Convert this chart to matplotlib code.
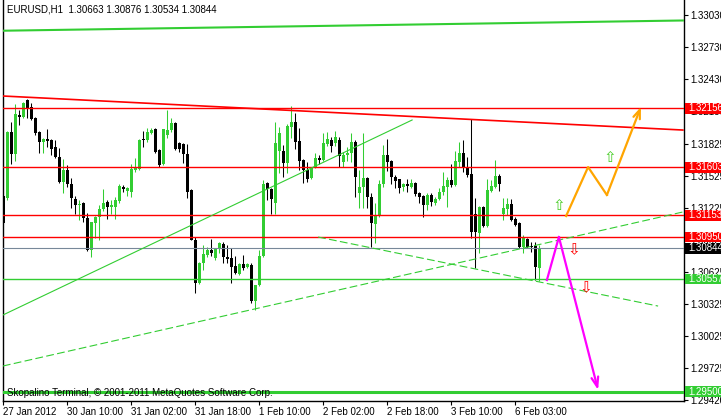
import numpy as np
import matplotlib
matplotlib.use("Agg")
import matplotlib.pyplot as plt
from matplotlib.patches import Rectangle
from matplotlib.transforms import blended_transform_factory

plt.rcParams['font.family'] = ['Liberation Sans', 'DejaVu Sans']
plt.rcParams['font.size'] = 7

# EURUSD H1 bars
opens = [1.31334, 1.31315, 1.31933, 1.31727, 1.32093, 1.32074, 1.32234, 1.32168, 1.32065, 1.31933,
         1.31840, 1.31868, 1.31859, 1.31793, 1.31699, 1.31465, 1.31577, 1.31446, 1.31305, 1.31249,
         1.31268, 1.31127, 1.30827, 1.31080, 1.31137, 1.31212, 1.31277, 1.31230, 1.31230, 1.31287,
         1.31418, 1.31380, 1.31371, 1.31577, 1.31587, 1.31868, 1.31859, 1.31924, 1.31962, 1.31765,
         1.31634, 1.31905, 1.31952, 1.32018, 1.31830, 1.31821, 1.31727, 1.31390, 1.30921, 1.30518,
         1.30705, 1.30780, 1.30827, 1.30752, 1.30837, 1.30884, 1.30762, 1.30752, 1.30677, 1.30602,
         1.30696, 1.30668, 1.30687, 1.30349, 1.30499, 1.30771, 1.31455, 1.31399, 1.31268, 1.31755,
         1.31755, 1.31643, 1.31980, 1.32027, 1.31849, 1.31671, 1.31577, 1.31502, 1.31605, 1.31690,
         1.31671, 1.31821, 1.31859, 1.31830, 1.31859, 1.31652, 1.31718, 1.31737, 1.31840, 1.31362,
         1.31418, 1.31502, 1.31324, 1.31071, 1.31155, 1.31446, 1.31718, 1.31662, 1.31512, 1.31493,
         1.31418, 1.31446, 1.31418, 1.31455, 1.31362, 1.31334, 1.31249, 1.31343, 1.31268, 1.31305,
         1.31371, 1.31418, 1.31484, 1.31437, 1.31652, 1.31737, 1.31605, 1.31540, 1.31165, 1.30987,
         1.31230, 1.31052, 1.31380, 1.31418, 1.31521, 1.31165, 1.31212, 1.31259, 1.31118, 1.31080,
         1.30855, 1.30930, 1.30865, 1.30865, 1.30663]
highs = [1.31343, 1.31943, 1.32027, 1.32196, 1.32140, 1.32215, 1.32243, 1.32205, 1.32074, 1.31943,
         1.31877, 1.31962, 1.31868, 1.31859, 1.31784, 1.31680, 1.31624, 1.31502, 1.31334, 1.31296,
         1.31277, 1.31174, 1.31090, 1.31146, 1.31249, 1.31399, 1.31296, 1.31296, 1.31324, 1.31446,
         1.31437, 1.31418, 1.31634, 1.31690, 1.31868, 1.31943, 1.31971, 1.31971, 1.31971, 1.31774,
         1.31962, 1.32140, 1.32065, 1.32027, 1.31840, 1.31830, 1.31821, 1.31399, 1.30949, 1.30715,
         1.30874, 1.30855, 1.30930, 1.30846, 1.30902, 1.30902, 1.30874, 1.30846, 1.30771, 1.30705,
         1.30780, 1.30705, 1.30705, 1.30499, 1.30827, 1.31484, 1.31465, 1.31409, 1.32027, 1.31980,
         1.31812, 1.32008, 1.32177, 1.32112, 1.31971, 1.31680, 1.31652, 1.31605, 1.31737, 1.31718,
         1.31924, 1.31933, 1.31887, 1.31943, 1.31887, 1.31746, 1.31793, 1.31924, 1.31859, 1.31577,
         1.31924, 1.31512, 1.31362, 1.31268, 1.31484, 1.31812, 1.31868, 1.31671, 1.31530, 1.31493,
         1.31455, 1.31493, 1.31493, 1.31465, 1.31371, 1.31343, 1.31362, 1.31362, 1.31324, 1.31409,
         1.31559, 1.31512, 1.31634, 1.31755, 1.31840, 1.31859, 1.31699, 1.32055, 1.31315, 1.31240,
         1.31240, 1.31493, 1.31484, 1.31671, 1.31540, 1.31315, 1.31315, 1.31305, 1.31137, 1.31090,
         1.30968, 1.30940, 1.30902, 1.30902, 1.30876]
lows = [1.31071, 1.31296, 1.31634, 1.31662, 1.31999, 1.32065, 1.32065, 1.32046, 1.31905, 1.31737,
        1.31737, 1.31793, 1.31718, 1.31690, 1.31455, 1.31362, 1.31418, 1.31221, 1.31165, 1.31109,
        1.31090, 1.30818, 1.30762, 1.30940, 1.30921, 1.31193, 1.31118, 1.31165, 1.31118, 1.31268,
        1.31371, 1.31334, 1.31324, 1.31559, 1.31577, 1.31793, 1.31840, 1.31915, 1.31737, 1.31605,
        1.31624, 1.31877, 1.31933, 1.31765, 1.31746, 1.31643, 1.31315, 1.30921, 1.30424, 1.30509,
        1.30640, 1.30762, 1.30771, 1.30734, 1.30799, 1.30705, 1.30705, 1.30518, 1.30602, 1.30593,
        1.30640, 1.30659, 1.30330, 1.30265, 1.30490, 1.30762, 1.31296, 1.31165, 1.31165, 1.31549,
        1.31512, 1.31549, 1.31877, 1.31774, 1.31577, 1.31455, 1.31465, 1.31493, 1.31596, 1.31634,
        1.31662, 1.31802, 1.31746, 1.31802, 1.31605, 1.31605, 1.31662, 1.31652, 1.31324, 1.31221,
        1.31221, 1.31221, 1.30855, 1.30893, 1.31137, 1.31418, 1.31568, 1.31446, 1.31409, 1.31362,
        1.31380, 1.31371, 1.31409, 1.31334, 1.31268, 1.31137, 1.31202, 1.31240, 1.31249, 1.31296,
        1.31343, 1.31230, 1.31418, 1.31427, 1.31605, 1.31559, 1.31512, 1.30940, 1.30659, 1.30799,
        1.31043, 1.31043, 1.31371, 1.31409, 1.31380, 1.31109, 1.31155, 1.31099, 1.31052, 1.30846,
        1.30799, 1.30846, 1.30809, 1.30546, 1.30534]
closes = [1.31080, 1.31933, 1.31727, 1.32102, 1.32074, 1.32205, 1.32158, 1.32055, 1.31924, 1.31840,
          1.31868, 1.31849, 1.31774, 1.31699, 1.31465, 1.31577, 1.31446, 1.31315, 1.31249, 1.31259,
          1.31127, 1.30827, 1.31090, 1.31137, 1.31212, 1.31268, 1.31230, 1.31249, 1.31296, 1.31427,
          1.31399, 1.31409, 1.31587, 1.31596, 1.31859, 1.31859, 1.31933, 1.31952, 1.31746, 1.31624,
          1.31962, 1.31952, 1.32018, 1.31774, 1.31774, 1.31727, 1.31371, 1.30921, 1.30518, 1.30705,
          1.30790, 1.30827, 1.30799, 1.30846, 1.30893, 1.30762, 1.30743, 1.30668, 1.30612, 1.30696,
          1.30659, 1.30696, 1.30349, 1.30499, 1.30771, 1.31446, 1.31399, 1.31305, 1.31830, 1.31924,
          1.31643, 1.31990, 1.32027, 1.31840, 1.31662, 1.31577, 1.31493, 1.31605, 1.31690, 1.31671,
          1.31830, 1.31868, 1.31802, 1.31887, 1.31709, 1.31718, 1.31737, 1.31840, 1.31512, 1.31418,
          1.31502, 1.31324, 1.31080, 1.31155, 1.31446, 1.31718, 1.31652, 1.31512, 1.31474, 1.31409,
          1.31446, 1.31427, 1.31455, 1.31352, 1.31324, 1.31249, 1.31343, 1.31277, 1.31305, 1.31371,
          1.31427, 1.31484, 1.31437, 1.31662, 1.31737, 1.31605, 1.31530, 1.30996, 1.30996, 1.31230,
          1.31052, 1.31390, 1.31427, 1.31521, 1.31446, 1.31221, 1.31259, 1.31109, 1.31062, 1.30855,
          1.30940, 1.30855, 1.30855, 1.30668, 1.30844]

# time axis labels every 16 bars
xtick_bars = [0, 16, 32, 48, 64, 80, 96, 112, 128]
xtick_labels = ['27 Jan 2012', '30 Jan 10:00', '31 Jan 02:00', '31 Jan 18:00', '1 Feb 10:00',
                '2 Feb 02:00', '2 Feb 18:00', '3 Feb 10:00', '6 Feb 03:00']
ytick_prices = [1.33030, 1.32730, 1.32430, 1.32130, 1.31825, 1.31525, 1.31225,
                1.30925, 1.30625, 1.30325, 1.30025, 1.29725, 1.29420]

# horizontal levels
red_levels = [1.32156, 1.31603, 1.31153, 1.30950]
bid_level = 1.30844
green_level = 1.30557
target_level = 1.29500

# trend lines (bar index, price)
top_line = ([-0.1, 169.9], [1.32883, 1.32979])
red_trend = ([-0.1, 169.9], [1.32271, 1.31952])
green_trend = ([-0.1, 102.2], [1.30218, 1.32046])
dash_up = ([-0.1, 169.9], [1.29740, 1.31184])
dash_down = ([78.7, 163.7], [1.30949, 1.30302])
orange_path = ([140.7, 146.2, 150.9, 159.4], [1.31146, 1.31605, 1.31343, 1.32168])
magenta_path = ([135.9, 138.9, 148.7], [1.30546, 1.30949, 1.29515])
up_arrows = ([138.9, 151.7], [1.31249, 1.31699])
down_arrows = ([142.5, 145.6], [1.30827, 1.30471])

GREEN = '#32CD32'

fig = plt.figure(figsize=(7.21, 4.18), dpi=100)
ax = fig.add_axes([2.5 / 721, 17 / 418, 681 / 721, 401 / 418])
ax.set_xlim(-0.2, 170.05)
ax.set_ylim(1.29412, 1.33171)

# candles
idx = np.arange(len(opens))
o = np.array(opens)
c = np.array(closes)
bull = c > o
cols = np.where(bull, GREEN, 'black')
ax.vlines(idx, lows, highs, colors=cols, linewidth=0.75, zorder=2)
ax.bar(idx, np.maximum(np.abs(c - o), 0.00009), bottom=np.minimum(o, c),
       width=0.75, color=cols, linewidth=0, zorder=2)

# levels
for p in red_levels:
    ax.axhline(p, color='red', lw=1.0, zorder=3)
ax.axhline(bid_level, color='#778899', lw=0.8, zorder=3)
ax.axhline(green_level, color=GREEN, lw=1.0, zorder=3)
ax.axhline(target_level, color=GREEN, lw=2.2, zorder=3)

# trend lines
ax.plot(*top_line, color=GREEN, lw=1.5, zorder=3)
ax.plot(*red_trend, color='red', lw=1.2, zorder=3)
ax.plot(*green_trend, color=GREEN, lw=0.8, zorder=3)
ax.plot(*dash_up, color=GREEN, lw=0.8, dashes=(7, 3), zorder=3)
ax.plot(*dash_down, color=GREEN, lw=0.8, dashes=(7, 3), zorder=3)

# projected paths
ox, oy = orange_path
ax.plot(ox[:-1], oy[:-1], color='orange', lw=1.6, zorder=4)
ax.annotate('', xy=(ox[-1], oy[-1]), xytext=(ox[-2], oy[-2]),
            arrowprops=dict(arrowstyle='->,head_length=0.9,head_width=0.35',
                            color='orange', lw=1.6, shrinkA=0, shrinkB=0), zorder=4)
mx, my = magenta_path
ax.plot(mx[:-1], my[:-1], color='magenta', lw=1.6, zorder=4)
ax.annotate('', xy=(mx[-1], my[-1]), xytext=(mx[-2], my[-2]),
            arrowprops=dict(arrowstyle='->,head_length=1.0,head_width=0.35',
                            color='magenta', lw=1.6, shrinkA=0, shrinkB=0), zorder=4)

for x, y in zip(*up_arrows):
    ax.text(x, y, '\u21e7', color='#44cc22', fontsize=11, ha='center', va='center',
            family='DejaVu Sans', zorder=5)
for x, y in zip(*down_arrows):
    ax.text(x, y, '\u21e9', color='red', fontsize=11, ha='center', va='center',
            family='DejaVu Sans', zorder=5)

# axes styling
ax.spines['top'].set_visible(False)
for s in ['left', 'right', 'bottom']:
    ax.spines[s].set_linewidth(1.0)
ax.yaxis.tick_right()
ax.set_yticks(ytick_prices)
ax.set_yticklabels([f'{p:.5f}' for p in ytick_prices])
ax.tick_params(axis='y', direction='out', length=3, pad=2, labelsize=7)
ax.set_xticks(xtick_bars)
ax.set_xticklabels(xtick_labels, ha='left')
ax.tick_params(axis='x', direction='out', length=3, pad=1.5, labelsize=7)

# price tags on right scale
trans = blended_transform_factory(ax.transAxes, ax.transData)
tags = [(1.32156, 'red'), (1.31603, 'red'), (1.31153, 'red'), (1.30950, 'red'),
        (bid_level, 'black'), (green_level, GREEN), (target_level, GREEN)]
for p, col in tags:
    ax.add_patch(Rectangle((1.0025, p - 0.00050), 0.06, 0.00100, transform=trans,
                           fc=col, ec='none', clip_on=False, zorder=6))
    ax.text(1.0065, p, f'{p:.5f}', transform=trans, color='white', fontsize=7,
            va='center', ha='left', clip_on=False, zorder=7)

fig.text(7 / 721, 1 - 10 / 418, 'EURUSD,H1  1.30663 1.30876 1.30534 1.30844',
         fontsize=7, va='center', ha='left')
fig.text(7 / 721, 1 - 393 / 418, 'Skopalino Terminal, \u00a9 2001-2011 MetaQuotes Software Corp.',
         fontsize=7, va='center', ha='left')

fig.savefig('out.png', dpi=100)
